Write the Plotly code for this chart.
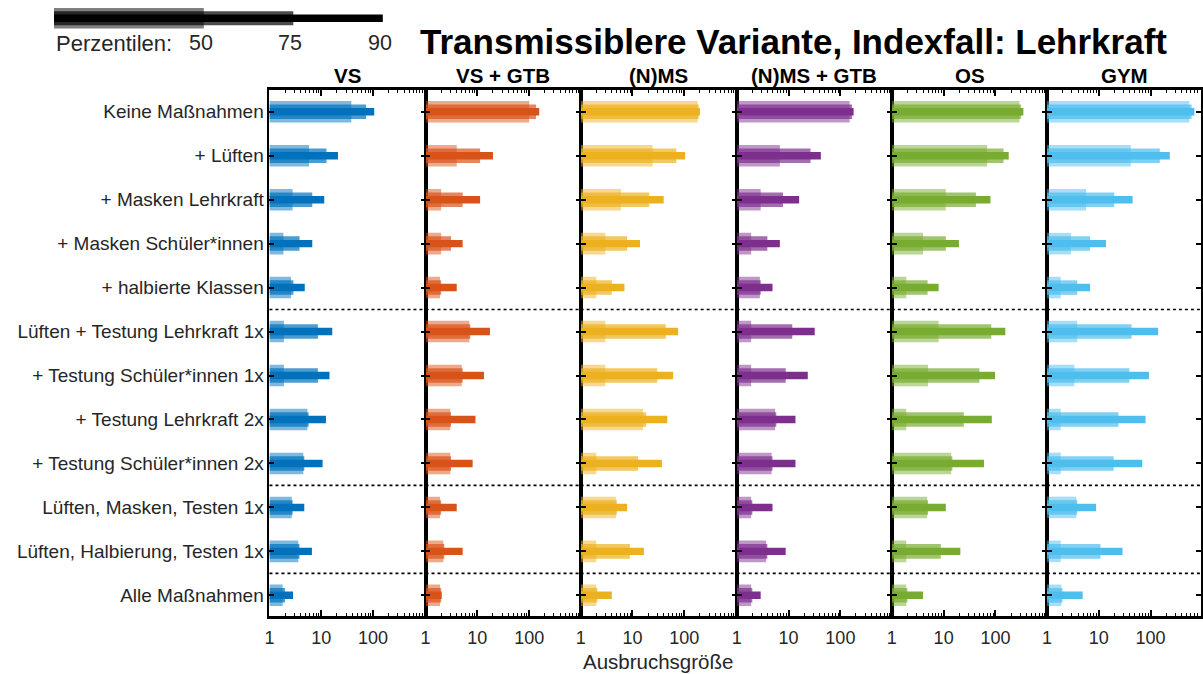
import plotly.graph_objects as go

# ---------------- data ----------------
CATEGORIES = [
    "Keine Maßnahmen",
    "+ Lüften",
    "+ Masken Lehrkraft",
    "+ Masken Schüler*innen",
    "+ halbierte Klassen",
    "Lüften + Testung Lehrkraft 1x",
    "+ Testung Schüler*innen 1x",
    "+ Testung Lehrkraft 2x",
    "+ Testung Schüler*innen 2x",
    "Lüften, Masken, Testen 1x",
    "Lüften, Halbierung, Testen 1x",
    "Alle Maßnahmen",
]
PANELS = ["VS", "VS + GTB", "(N)MS", "(N)MS + GTB", "OS", "GYM"]
COLORS = ["#0072BD", "#D95319", "#EDB120", "#7E2F8E", "#77AC30", "#4DBEEE"]
X_TICKS = [1, 10, 100]
X_TICKTEXT = ["1", "10", "100"]
PERCENTILE_LABELS = ["50", "75", "90"]

VS_P50 = [38, 5.8, 2.8, 1.86, 2.6, 1.9, 1.9, 5.4, 4.5, 2.7, 3.6, 1.8]
VS_P75 = [73, 12.6, 6.7, 3.8, 2.9, 8.6, 8.6, 5.7, 4.7, 2.8, 3.8, 2.0]
VS_P90 = [105, 21, 11.4, 6.7, 4.8, 16.3, 14.4, 12.3, 10.6, 4.7, 6.6, 2.85]

VSGTB_P50 = [100, 4.0, 2.0, 2.0, 1.9, 7.0, 5.0, 3.0, 3.0, 1.9, 2.2, 1.9]
VSGTB_P75 = [135, 11.3, 5.2, 3.1, 2.0, 7.3, 5.2, 3.1, 3.1, 2.0, 2.3, 2.0]
VSGTB_P90 = [156, 20, 11.3, 5.2, 4.0, 17.5, 13.4, 9.2, 8.1, 4.0, 5.2, 2.05]

NMS_P50 = [181, 24.5, 6.0, 3.0, 2.0, 3.0, 3.0, 16, 2.0, 4.8, 2.0, 2.0]
NMS_P75 = [190, 70, 21, 7.9, 4.0, 44, 30, 18.4, 12.8, 5.0, 8.9, 2.1]
NMS_P90 = [200, 104, 40, 14, 7.0, 76, 61, 47, 37, 7.9, 16.6, 4.0]

NMSGTB_P50 = [151, 6.8, 2.9, 1.9, 2.8, 1.9, 1.9, 5.5, 4.7, 1.9, 3.7, 1.9]
NMSGTB_P75 = [168, 26.5, 7.8, 3.9, 2.9, 11.8, 8.8, 5.8, 4.9, 2.0, 3.9, 2.0]
NMSGTB_P90 = [180, 42, 16, 6.8, 4.9, 32, 23.5, 13.6, 13.6, 4.9, 8.8, 2.9]

OS_P50 = [290, 69, 11, 4.0, 1.9, 8.0, 5.0, 1.9, 14, 4.8, 1.9, 1.9]
OS_P75 = [310, 143, 42, 11, 4.9, 83, 49, 24.5, 14.7, 5.0, 8.8, 2.0]
OS_P90 = [345, 180, 80, 19.7, 8.0, 155, 98, 85, 60, 11, 21, 4.0]

GYM_P50 = [560, 41.5, 5.7, 2.9, 1.85, 3.85, 3.4, 1.85, 1.85, 3.7, 1.85, 1.9]
GYM_P75 = [620, 151, 20, 6.8, 3.85, 43, 39, 24, 19.4, 3.85, 10.8, 2.0]
GYM_P90 = [700, 235, 45, 13.8, 6.8, 140, 93, 80, 69, 8.9, 28.8, 4.9]

P50 = [VS_P50, VSGTB_P50, NMS_P50, NMSGTB_P50, OS_P50, GYM_P50]
P75 = [VS_P75, VSGTB_P75, NMS_P75, NMSGTB_P75, OS_P75, GYM_P75]
P90 = [VS_P90, VSGTB_P90, NMS_P90, NMSGTB_P90, OS_P90, GYM_P90]

# ---------------- layout helpers ----------------
W, H = 1203, 674
FONT = "Liberation Sans, Arial, Helvetica, sans-serif"
TXT = "#262626"
LEFT0 = 266.5
PW = 156.4
TOP, BOTTOM = 90, 616


def px(x):
    return x / W


def py(y):
    return 1 - y / H


def rgba(hexcol, a):
    h = hexcol.lstrip("#")
    r, g, b = int(h[0:2], 16), int(h[2:4], 16), int(h[4:6], 16)
    return f"rgba({r},{g},{b},{a})"


LAYERS = [(0.49, 0.5), (0.33, 0.7), (0.17, 1.0)]

fig = go.Figure()
layout = dict()
annotations = []
shapes = []
ncat = len(CATEGORIES)
minor_vals = [m * 10 ** k for k in range(0, 3) for m in range(2, 10)]
edges = [round(LEFT0 + i * PW) for i in range(len(PANELS))] + [W]

for i, name in enumerate(PANELS):
    sfx = "" if i == 0 else str(i + 1)
    left = edges[i]
    right = edges[i + 1] if i + 1 < len(PANELS) else W
    for vals, (wd, alpha) in zip([P50[i], P75[i], P90[i]], LAYERS):
        fig.add_trace(go.Bar(
            orientation="h",
            y=CATEGORIES,
            x=[v - 1 for v in vals],
            base=[1] * ncat,
            width=wd,
            marker=dict(color=rgba(COLORS[i], alpha), line=dict(width=0)),
            xaxis="x" + sfx, yaxis="y" + sfx,
            showlegend=False, hoverinfo="skip",
        ))
    layout["xaxis" + sfx] = dict(
        domain=[px(left), px(right)], anchor="y" + sfx, type="log",
        range=[0, 3 * (right - left) / PW],
        tickmode="array", tickvals=X_TICKS, ticktext=X_TICKTEXT,
        ticks="inside", ticklen=6, tickwidth=1.5, tickcolor="black",
        showline=True, linecolor="black", linewidth=2.5, mirror="ticks",
        showgrid=False, zeroline=False,
        tickfont=dict(size=18, color=TXT, family=FONT),
        ticklabelstandoff=4,
        minor=dict(tickmode="array", tickvals=minor_vals, ticks="inside",
                   ticklen=3, tickwidth=1, tickcolor="black", showgrid=False),
    )
    layout["yaxis" + sfx] = dict(
        domain=[py(BOTTOM), py(TOP)], anchor="x" + sfx, type="category",
        categoryorder="array", categoryarray=CATEGORIES,
        range=[ncat - 1 + 0.47, -0.494],
        ticks="inside", ticklen=5, tickwidth=1.5, tickcolor="black",
        showline=True, linecolor="black", linewidth=1.8, mirror="ticks",
        showgrid=False, zeroline=False,
        showticklabels=(i == 0),
        tickfont=dict(size=19, color=TXT, family=FONT),
    )
    annotations.append(dict(
        text=f"<b>{name}</b>", x=px(left + PW / 2), y=py(75),
        xref="paper", yref="paper", showarrow=False,
        xanchor="center", yanchor="middle",
        font=dict(size=20.5, color="black", family=FONT),
    ))
    for sep in [4.5, 8.5, 10.5]:
        shapes.append(dict(
            type="line", xref=f"x{sfx} domain", yref="y" + sfx,
            x0=0, x1=1, y0=sep, y1=sep,
            line=dict(color="black", width=1.6, dash="dot"),
        ))

# main title
annotations.append(dict(
    text="<b>Transmissiblere Variante, Indexfall: Lehrkraft</b>",
    x=px(793), y=py(41), xref="paper", yref="paper", showarrow=False,
    xanchor="center", yanchor="middle",
    font=dict(size=35, color="black", family=FONT),
))
# x axis title
annotations.append(dict(
    text="Ausbruchsgröße", x=px(657), y=py(661), xref="paper", yref="paper",
    showarrow=False, xanchor="center", yanchor="middle",
    font=dict(size=20.5, color=TXT, family=FONT),
))

# percentile key (top-left)
key_x0 = 49.3
key_ends = [200, 290, 380]
key_half = [10.3, 7.0, 3.8]
key_cy = 18.3
for end, hh, (wd, alpha) in zip(key_ends, key_half, LAYERS):
    shapes.append(dict(
        type="rect", xref="paper", yref="paper",
        x0=px(key_x0), x1=px(end), y0=py(key_cy + hh), y1=py(key_cy - hh),
        fillcolor=f"rgba(0,0,0,{alpha})", line=dict(width=0),
    ))
annotations.append(dict(
    text="Perzentilen:", x=px(49), y=py(43), xref="paper", yref="paper",
    showarrow=False, xanchor="left", yanchor="middle",
    font=dict(size=22, color=TXT, family=FONT),
))
for end, lab in zip(key_ends, PERCENTILE_LABELS):
    annotations.append(dict(
        text=lab, x=px(end - 3), y=py(43), xref="paper", yref="paper",
        showarrow=False, xanchor="center", yanchor="middle",
        font=dict(size=21.5, color=TXT, family=FONT),
    ))

fig.update_layout(
    width=W, height=H,
    margin=dict(l=0, r=0, t=0, b=0),
    paper_bgcolor="white", plot_bgcolor="white",
    barmode="overlay",
    annotations=annotations, shapes=shapes,
    font=dict(family=FONT, color=TXT),
    **layout,
)

fig.write_html(
    "out.html",
    config={"displayModeBar": False},
    post_script="document.body.style.margin='0';document.body.style.padding='0';"
                "document.body.style.overflow='hidden';",
)
